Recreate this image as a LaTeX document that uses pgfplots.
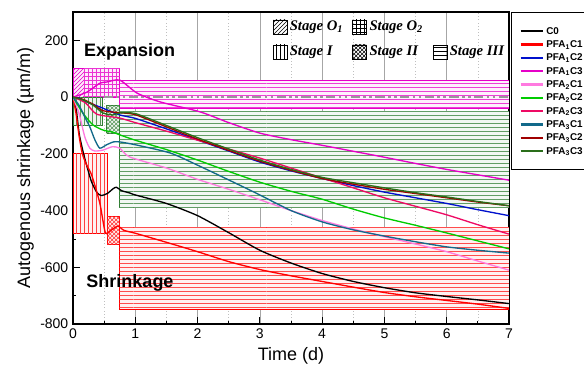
\documentclass[border=0pt]{standalone}
\usepackage{pgfplots}
\pgfplotsset{compat=1.18}
\usetikzlibrary{patterns}
\usepackage{fontspec}
\setmainfont{Liberation Sans}
\newfontfamily\timesf{Liberation Serif}
\definecolor{cMag}{HTML}{E600C8}
\definecolor{cPink}{HTML}{FF7AE0}
\definecolor{cGreen}{HTML}{00CC00}
\definecolor{cCrim}{HTML}{EE0A64}
\definecolor{cTeal}{HTML}{12698A}
\definecolor{cDRed}{HTML}{A00000}
\definecolor{cDGreen}{HTML}{2A6E1A}
\definecolor{cBlue}{HTML}{0010CC}
\definecolor{bGreen}{HTML}{2E7D32}
\begin{document}
\begin{tikzpicture}
\begin{axis}[
  at={(0pt,0pt)}, anchor=south west,
  scale only axis, width=327pt, height=234pt,
  xmin=0, xmax=7, ymin=-800, ymax=300,
  xtick={0,1,...,7}, ytick={-800,-600,...,200},
  minor x tick num=1, minor y tick num=1,
  tick align=inside, tick pos=left,
  major tick length=5pt, minor tick length=2.5pt,
  xmajorgrids, xminorgrids,
  major grid style={gray!70, line width=0.5pt},
  minor grid style={gray!50, dotted, line width=0.5pt},
  axis line style={line width=0.8pt},
  every tick/.style={black, line width=0.6pt},
  /pgf/number format/assume math mode=true,
  tick label style={font=\fontsize{10.5}{12}\selectfont},
  xlabel={Time (d)}, ylabel={Autogenous shrinkage (µm/m)},
  label style={font=\fontsize{13.5}{15}\selectfont},
  xlabel style={yshift=0pt},
  ylabel style={yshift=-2pt},
  legend style={at={(1.0046,1)}, anchor=north west, draw=black, line width=0.6pt,
    font=\bfseries\fontsize{7.4}{9}\selectfont, inner xsep=6pt, inner ysep=9pt,
    nodes={text height=6pt, text depth=1.2pt, inner sep=1.4pt}},
  legend cell align=left,
  legend image code/.code={\draw[#1, line width=1.8pt] (0pt,0pt) -- (17pt,0pt);},
  clip=true,
]
% ---- stage regions ----
% magenta
\addplot[forget plot, draw=cMag, line width=0.6pt, fill=cMag!8] coordinates {(0,0) (0.18,0) (0.18,100) (0,100) (0,0)};
\addplot[forget plot, draw=none, pattern=north east lines, pattern color=cMag] coordinates {(0,0) (0.18,0) (0.18,100) (0,100) (0,0)};
\addplot[forget plot, draw=cMag, line width=0.6pt, fill=cMag!8] coordinates {(0.18,0) (0.75,0) (0.75,100) (0.18,100) (0.18,0)};
\addplot[forget plot, draw=none, pattern=grid, pattern color=cMag!80] coordinates {(0.18,0) (0.75,0) (0.75,100) (0.18,100) (0.18,0)};
\addplot[forget plot, draw=cMag, line width=0.6pt, fill=cMag!6] coordinates {(0.75,-40) (7,-40) (7,60) (0.75,60) (0.75,-40)};
\addplot[forget plot, draw=none, pattern=horizontal lines, pattern color=cMag!75] coordinates {(0.75,-40) (7,-40) (7,60) (0.75,60) (0.75,-40)};
% green
\addplot[forget plot, draw=bGreen, line width=0.6pt, fill=bGreen!8] coordinates {(0,-100) (0.48,-100) (0.48,0) (0,0) (0,-100)};
\addplot[forget plot, draw=none, pattern=vertical lines, pattern color=bGreen!80] coordinates {(0,-100) (0.48,-100) (0.48,0) (0,0) (0,-100)};
\addplot[forget plot, draw=bGreen, line width=0.6pt, fill=bGreen!8] coordinates {(0.54,-127) (0.75,-127) (0.75,-30) (0.54,-30) (0.54,-127)};
\addplot[forget plot, draw=none, pattern=crosshatch, pattern color=bGreen!80] coordinates {(0.54,-127) (0.75,-127) (0.75,-30) (0.54,-30) (0.54,-127)};
\addplot[forget plot, draw=bGreen, line width=0.6pt, fill=bGreen!6] coordinates {(0.75,-390) (7,-390) (7,-50) (0.75,-50) (0.75,-390)};
\addplot[forget plot, draw=none, pattern=horizontal lines, pattern color=bGreen!75] coordinates {(0.75,-390) (7,-390) (7,-50) (0.75,-50) (0.75,-390)};
% red
\addplot[forget plot, draw=red, line width=0.6pt, fill=red!6] coordinates {(0,-480) (0.55,-480) (0.55,-200) (0,-200) (0,-480)};
\addplot[forget plot, draw=none, pattern=vertical lines, pattern color=red!75] coordinates {(0,-480) (0.55,-480) (0.55,-200) (0,-200) (0,-480)};
\addplot[forget plot, draw=red, line width=0.6pt, fill=red!8] coordinates {(0.55,-520) (0.75,-520) (0.75,-420) (0.55,-420) (0.55,-520)};
\addplot[forget plot, draw=none, pattern=crosshatch, pattern color=red!80] coordinates {(0.55,-520) (0.75,-520) (0.75,-420) (0.55,-420) (0.55,-520)};
\addplot[forget plot, draw=red, line width=0.6pt, fill=red!6] coordinates {(0.75,-750) (7,-750) (7,-460) (0.75,-460) (0.75,-750)};
\addplot[forget plot, draw=none, pattern=horizontal lines, pattern color=red!70] coordinates {(0.75,-750) (7,-750) (7,-460) (0.75,-460) (0.75,-750)};
% zero line
\addplot[forget plot, gray!80, line width=1.5pt, dash pattern=on 7pt off 2.5pt on 2pt off 2.5pt on 2pt off 2.5pt] coordinates {(0.5,0) (7,0)};
% ---- curves ----
\addplot[black, line width=1pt, smooth, tension=0.4] coordinates {(0,0) (0.05,-40) (0.1,-130) (0.17,-200) (0.24,-257) (0.3,-300) (0.38,-335) (0.45,-347) (0.55,-340) (0.65,-322) (0.7,-318) (0.78,-330) (0.91,-338) (1,-345) (1.5,-375) (2,-418) (2.5,-478) (3,-540) (3.5,-585) (4,-622) (4.5,-650) (5,-672) (5.5,-690) (6,-703) (6.5,-715) (7,-728)};
\addlegendentry{C0}
\addplot[red, line width=1pt, smooth, tension=0.4] coordinates {(0,0) (0.05,-60) (0.1,-140) (0.15,-200) (0.22,-240) (0.3,-275) (0.43,-373) (0.52,-478) (0.62,-468) (0.72,-455) (0.82,-470) (1,-480) (1.5,-512) (2,-545) (2.5,-580) (3,-608) (3.5,-630) (4,-650) (4.5,-670) (5,-689) (5.5,-704) (6,-717) (6.5,-730) (7,-745)};
\addlegendentry{PFA\textsubscript{1}C1}
\addplot[cBlue, line width=1pt, smooth, tension=0.4] coordinates {(0,0) (0.1,-3) (0.22,-17) (0.48,-39) (0.75,-63) (1,-75) (1.5,-112) (2,-151) (2.5,-190) (3,-229) (3.5,-260) (4,-287) (4.5,-312) (5,-335) (5.5,-355) (6,-375) (6.5,-397) (7,-418)};
\addlegendentry{PFA\textsubscript{1}C2}
\addplot[cMag, line width=1pt, smooth, tension=0.4] coordinates {(0,0) (0.22,17) (0.43,49) (0.54,53) (0.75,60) (1.03,14) (1.4,-17) (2.04,-52) (2.5,-90) (3,-127) (3.5,-150) (4,-170) (4.5,-191) (5,-212) (5.5,-234) (6,-255) (6.5,-274) (7,-293)};
\addlegendentry{PFA\textsubscript{1}C3}
\addplot[cPink, line width=1pt, smooth, tension=0.4] coordinates {(0,0) (0.1,-60) (0.19,-141) (0.27,-180) (0.35,-190) (0.48,-187) (0.63,-175) (0.75,-180) (0.91,-211) (1.5,-250) (2,-290) (2.5,-325) (3,-362) (3.5,-400) (4,-435) (4.5,-465) (5,-492) (5.5,-518) (6,-545) (6.5,-578) (7,-610)};
\addlegendentry{PFA\textsubscript{2}C1}
\addplot[cGreen, line width=1pt, smooth, tension=0.4] coordinates {(0,0) (0.16,-57) (0.32,-98) (0.48,-116) (0.63,-123) (0.75,-133) (1,-152) (1.5,-185) (2,-222) (2.5,-262) (3,-300) (3.5,-332) (4,-360) (4.5,-395) (5,-426) (5.5,-452) (6,-479) (6.5,-507) (7,-535)};
\addlegendentry{PFA\textsubscript{2}C2}
\addplot[cCrim, line width=1pt, smooth, tension=0.4] coordinates {(0,0) (0.2,-20) (0.38,-60) (0.75,-74) (1,-90) (1.5,-120) (2,-152) (2.5,-183) (3,-215) (3.5,-250) (4,-285) (4.5,-320) (5,-355) (5.5,-385) (6,-415) (6.5,-450) (7,-483)};
\addlegendentry{PFA\textsubscript{2}C3}
\addplot[cTeal, line width=1pt, smooth, tension=0.4] coordinates {(0,0) (0.1,-30) (0.2,-75) (0.27,-105) (0.35,-150) (0.43,-180) (0.54,-168) (0.65,-158) (0.75,-158) (1,-168) (1.56,-197) (2,-240) (2.5,-292) (3,-345) (3.5,-400) (4,-440) (4.5,-468) (5,-490) (5.5,-510) (6,-528) (6.5,-540) (7,-550)};
\addlegendentry{PFA\textsubscript{3}C1}
\addplot[cDRed, line width=1pt, smooth, tension=0.4] coordinates {(0,0) (0.16,-8) (0.32,-25) (0.48,-48) (0.75,-55) (1,-62) (1.5,-105) (2,-148) (2.5,-188) (3,-226) (3.5,-258) (4,-287) (4.5,-307) (5,-325) (5.5,-340) (6,-355) (6.5,-370) (7,-383)};
\addlegendentry{PFA\textsubscript{3}C2}
\addplot[cDGreen, line width=1pt, smooth, tension=0.4] coordinates {(0,0) (0.16,-10) (0.32,-28) (0.48,-56) (0.64,-63) (0.75,-56) (1,-58) (1.5,-100) (2,-143) (2.5,-183) (3,-222) (3.5,-255) (4,-283) (4.5,-302) (5,-320) (5.5,-337) (6,-352) (6.5,-368) (7,-383)};
\addlegendentry{PFA\textsubscript{3}C3}
% ---- annotations ----
\node[font=\bfseries\fontsize{13.5}{15}\selectfont] at (axis cs:0.91,158) {Expansion};
\node[font=\bfseries\fontsize{13.5}{15}\selectfont] at (axis cs:0.915,-654) {Shrinkage};
% stage legend
\begin{scope}[every node/.append style={font=\timesf\bfseries\itshape\fontsize{11}{12}\selectfont}]
\node (s1) [draw, line width=0.6pt, pattern=north east lines, minimum size=10.5pt, inner sep=0pt] at (axis description cs:0.475,0.952) {};
\node[anchor=west, inner sep=1.5pt] at (s1.east) {Stage O\textsubscript{1}};
\node (s2) [draw, line width=0.6pt, pattern=grid, minimum size=10.5pt, inner sep=0pt] at (axis description cs:0.658,0.952) {};
\node[anchor=west, inner sep=1.5pt] at (s2.east) {Stage O\textsubscript{2}};
\node (s3) [draw, line width=0.6pt, pattern=vertical lines, minimum size=10.5pt, inner sep=0pt] at (axis description cs:0.475,0.872) {};
\node[anchor=west, inner sep=1.5pt] at (s3.east) {Stage I};
\node (s4) [draw, line width=0.6pt, pattern=crosshatch, minimum size=10.5pt, inner sep=0pt] at (axis description cs:0.658,0.872) {};
\node[anchor=west, inner sep=1.5pt] at (s4.east) {Stage II};
\node (s5) [draw, line width=0.6pt, pattern=horizontal lines, minimum size=10.5pt, inner sep=0pt] at (axis description cs:0.842,0.872) {};
\node[anchor=west, inner sep=1.5pt] at (s5.east) {Stage III};
\end{scope}
\end{axis}
\pgfresetboundingbox
\path[use as bounding box] (-54.75pt,-39pt) rectangle (383.25pt,243pt);
\end{tikzpicture}
\end{document}
